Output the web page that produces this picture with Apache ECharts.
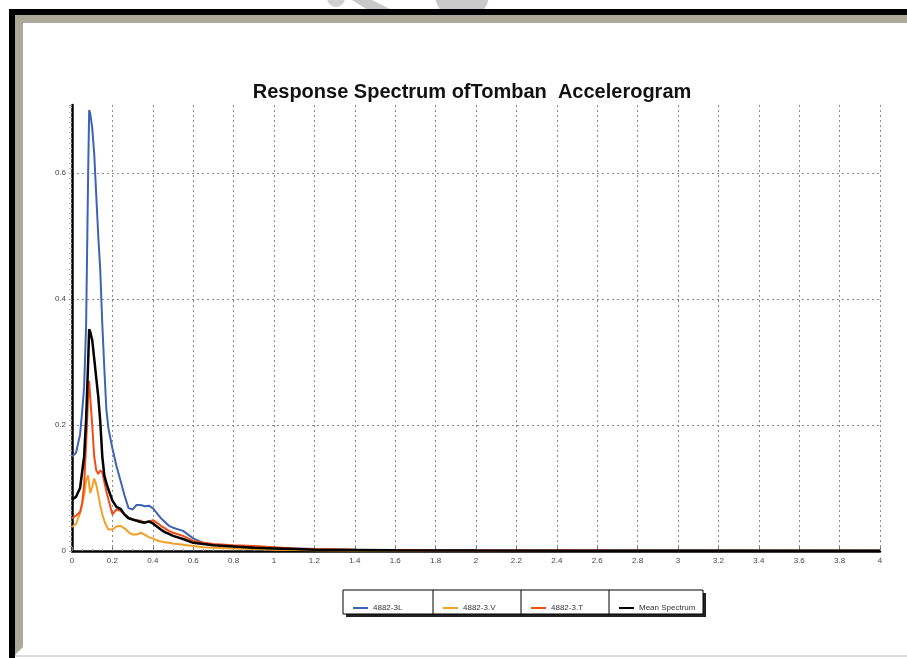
<!DOCTYPE html>
<html>
<head>
<meta charset="utf-8">
<style>
  html, body { margin: 0; padding: 0; background: #ffffff; }
  #chart { width: 907px; height: 658px; }
</style>
<script src="https://cdn.jsdelivr.net/npm/echarts@6/dist/echarts.min.js"></script>
</head>
<body>
<div id="chart"></div>
<script>
// Period (s) at which each spectrum is sampled
const periods = [0, 0.02, 0.04, 0.05, 0.06, 0.07, 0.08, 0.085, 0.09, 0.1,
  0.11, 0.12, 0.13, 0.14, 0.15, 0.16, 0.17, 0.18, 0.2, 0.22,
  0.24, 0.26, 0.28, 0.3, 0.32, 0.34, 0.36, 0.38, 0.4, 0.42,
  0.44, 0.46, 0.48, 0.5, 0.55, 0.6, 0.65, 0.7, 0.8, 0.9,
  1.0, 1.1, 1.2, 1.4, 1.6, 1.8, 2.0, 2.5, 3.0, 3.5, 4.0];

// Spectral acceleration of each component
const comp3L = [0.150, 0.156, 0.185, 0.220, 0.260, 0.360, 0.600, 0.700, 0.695, 0.672,
  0.630, 0.565, 0.500, 0.445, 0.360, 0.290, 0.225, 0.195, 0.163, 0.135,
  0.112, 0.088, 0.068, 0.066, 0.073, 0.073, 0.071, 0.072, 0.068, 0.060,
  0.052, 0.046, 0.040, 0.037, 0.032, 0.020, 0.013, 0.010, 0.008, 0.007,
  0.005, 0.004, 0.003, 0.002, 0.0015, 0.001, 0.001, 0.0008, 0.0006, 0.0005, 0.0004];

const comp3V = [0.038, 0.043, 0.060, 0.075, 0.088, 0.112, 0.120, 0.105, 0.092, 0.102,
  0.115, 0.105, 0.090, 0.072, 0.058, 0.048, 0.040, 0.034, 0.034, 0.039,
  0.040, 0.036, 0.030, 0.026, 0.026, 0.029, 0.026, 0.022, 0.020, 0.017,
  0.015, 0.014, 0.013, 0.012, 0.010, 0.008, 0.006, 0.005, 0.004, 0.003,
  0.002, 0.0015, 0.001, 0.0008, 0.0006, 0.0005, 0.0004, 0.0003, 0.0002, 0.0002, 0.0002];

const comp3T = [0.052, 0.056, 0.062, 0.075, 0.105, 0.170, 0.245, 0.270, 0.245, 0.200,
  0.150, 0.128, 0.122, 0.128, 0.125, 0.110, 0.095, 0.082, 0.058, 0.066,
  0.064, 0.058, 0.053, 0.050, 0.049, 0.048, 0.045, 0.046, 0.049, 0.045,
  0.040, 0.036, 0.032, 0.029, 0.024, 0.016, 0.013, 0.011, 0.009, 0.008,
  0.006, 0.004, 0.003, 0.002, 0.0015, 0.001, 0.0008, 0.0006, 0.0005, 0.0004, 0.0003];

const meanSpectrum = [0.082, 0.086, 0.100, 0.125, 0.150, 0.210, 0.300, 0.352, 0.348, 0.335,
  0.305, 0.275, 0.245, 0.205, 0.150, 0.120, 0.108, 0.098, 0.080, 0.070,
  0.067, 0.058, 0.052, 0.050, 0.048, 0.046, 0.045, 0.047, 0.044, 0.039,
  0.034, 0.030, 0.027, 0.024, 0.019, 0.013, 0.011, 0.009, 0.007, 0.005,
  0.004, 0.003, 0.002, 0.0015, 0.001, 0.0008, 0.0006, 0.0005, 0.0004, 0.0003, 0.0003];

const seriesNames = ['4882-3L', '4882-3.V', '4882-3.T', 'Mean Spectrum'];
const seriesColors = ['#3d64b4', '#f4a028', '#f04c14', '#000000'];
const seriesValues = [comp3L, comp3V, comp3T, meanSpectrum];

const FONT = '"Liberation Sans", Arial, sans-serif';
const chart = echarts.init(document.getElementById('chart'), null, { renderer: 'canvas' });

const pairs = vals => periods.map((p, i) => [p, vals[i]]);

// Legend box geometry: one cell per series
const box = { x: 343, y: 590, w: 360, h: 24 };
const cellEdges = [343, 433, 521, 609, 703];

const option = {
  backgroundColor: '#ffffff',
  animation: false,
  title: {
    text: 'Response Spectrum ofTomban  Accelerogram',
    left: 467, top: 77, textAlign: 'center',
    textStyle: { fontFamily: FONT, fontSize: 20, fontWeight: 'bold', color: '#111' }
  },
  grid: { left: 72, right: 27, top: 105, bottom: 107 },
  xAxis: {
    type: 'value', min: 0, max: 4, interval: 0.2,
    axisLine: { lineStyle: { color: '#000', width: 2.5 } },
    axisTick: { show: true, inside: true, length: 4, lineStyle: { color: '#777' } },
    minorTick: { show: true, splitNumber: 4, length: 2, lineStyle: { color: '#999' } },
    axisLabel: { fontFamily: FONT, fontSize: 8, color: '#444', margin: 6 },
    splitLine: { show: true, showMinLine: false, lineStyle: { color: '#8a8a8a', type: [2, 3], width: 1 } }
  },
  yAxis: {
    type: 'value', min: 0, max: 0.708, interval: 0.2,
    axisLine: { show: true, lineStyle: { color: '#000', width: 2.5 } },
    axisTick: { show: true, length: 3, lineStyle: { color: '#999' } },
    minorTick: { show: true, splitNumber: 25, length: 3, lineStyle: { color: '#bbb' } },
    axisLabel: { fontFamily: FONT, fontSize: 8, color: '#444', margin: 6, showMaxLabel: false },
    splitLine: { show: true, showMinLine: false, showMaxLine: false,
      lineStyle: { color: '#8a8a8a', type: [2, 3], width: 1 } }
  },
  legend: seriesNames.map((name, i) => ({
    data: [name],
    left: cellEdges[i] + 5, top: 599,
    icon: 'rect', itemWidth: 15, itemHeight: 2, itemGap: 4,
    selectedMode: false,
    textStyle: { fontFamily: FONT, fontSize: 8, color: '#333', padding: [0, 0, 0, 0] }
  })),
  series: seriesNames.map((name, i) => ({
    name, type: 'line', data: pairs(seriesValues[i]),
    showSymbol: false, symbol: 'none', smooth: false,
    lineStyle: { color: seriesColors[i], width: i === 3 ? 2.5 : 2 },
    itemStyle: { color: seriesColors[i] },
    z: 2 + i
  })),
  graphic: [
    // faint watermark shapes along the top edge
    { type: 'circle', shape: { cx: 462, cy: -6, r: 27 }, style: { fill: '#c9c9c9' }, z: 0 },
    { type: 'polygon', shape: { points: [[352, 0], [372, 0], [392, 10], [368, 10]] }, style: { fill: '#c9c9c9' }, z: 0 },
    { type: 'circle', shape: { cx: 336, cy: -2, r: 9 }, style: { fill: '#cfcfcf' }, z: 0 },
    // window frame: black outer band, grey inner band
    { type: 'rect', shape: { x: 9, y: 9, width: 898, height: 6 }, style: { fill: '#000' }, z: 10 },
    { type: 'rect', shape: { x: 9, y: 9, width: 6, height: 649 }, style: { fill: '#000' }, z: 10 },
    { type: 'polygon', shape: { points: [[15, 15], [907, 15], [907, 23], [23, 23], [23, 647], [15, 655]] },
      style: { fill: '#aca99a' }, z: 10 },
    { type: 'rect', shape: { x: 15, y: 655, width: 892, height: 2 }, style: { fill: '#dcdcdc' }, z: 10 },
    // legend box with drop shadow and cell dividers
    { type: 'rect', shape: { x: box.x + 3, y: box.y + 3, width: box.w, height: box.h }, style: { fill: '#222' }, z: 1 },
    { type: 'rect', shape: { x: box.x, y: box.y, width: box.w, height: box.h },
      style: { fill: '#fff', stroke: '#000', lineWidth: 1 }, z: 1 },
    ...cellEdges.slice(1, 4).map(x => ({
      type: 'line', shape: { x1: x, y1: box.y, x2: x, y2: box.y + box.h },
      style: { stroke: '#000', lineWidth: 1 }, z: 1
    }))
  ]
};

chart.setOption(option);
</script>
</body>
</html>
